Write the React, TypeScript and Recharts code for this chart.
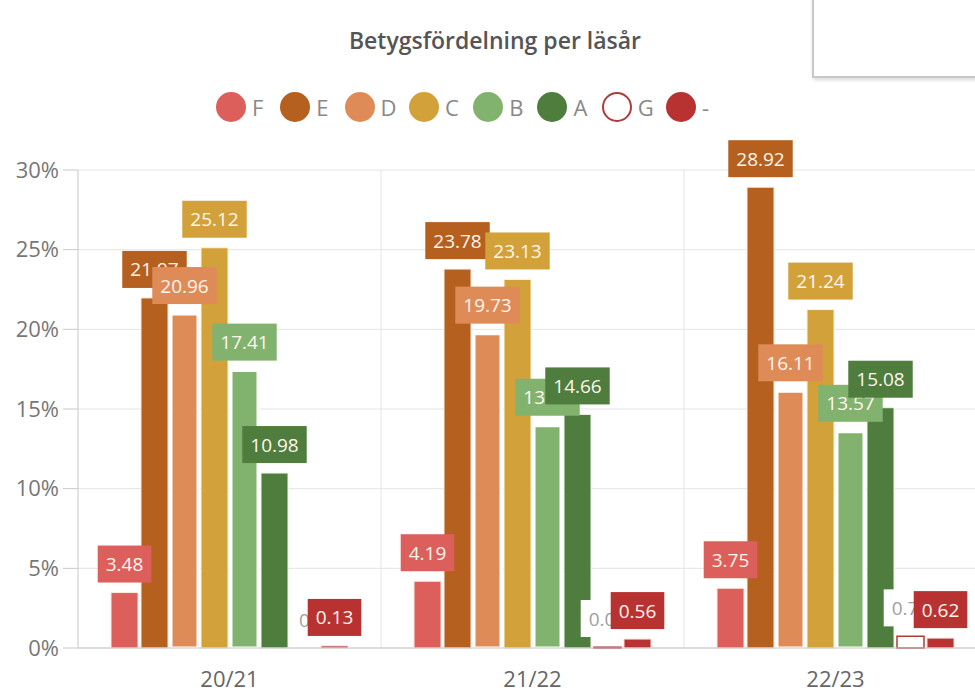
import React from "react";
import {
  BarChart,
  Bar,
  XAxis,
  YAxis,
  CartesianGrid,
  LabelList,
} from "recharts";

const categories = ["20/21", "21/22", "22/23"];
const gradeF = [3.48, 4.19, 3.75];
const gradeE = [21.97, 23.78, 28.92];
const gradeD = [20.96, 19.73, 16.11];
const gradeC = [25.12, 23.13, 21.24];
const gradeB = [17.41, 13.95, 13.57];
const gradeA = [10.98, 14.66, 15.08];
const gradeG = [0, 0.05, 0.73];
const gradeDash = [0.13, 0.56, 0.62];
const yTicks = [0, 5, 10, 15, 20, 25, 30];

const series = [
  { key: "F", name: "F", values: gradeF, color: "#dc5f5c", stroke: "#fbe9df", sw: 1, text: "#fff6ee" },
  { key: "E", name: "E", values: gradeE, color: "#b5601f", stroke: "#fbe9df", sw: 1, text: "#fff6ee" },
  { key: "D", name: "D", values: gradeD, color: "#df8b58", stroke: "#ffffff", sw: 3, text: "#fff6ee" },
  { key: "C", name: "C", values: gradeC, color: "#d3a13a", stroke: "#fdf3d8", sw: 1, text: "#fff6ee" },
  { key: "B", name: "B", values: gradeB, color: "#82b36e", stroke: "#ffffff", sw: 3, text: "#fff6ee" },
  { key: "A", name: "A", values: gradeA, color: "#4e7d3d", stroke: "#eef5e6", sw: 1, text: "#fff6ee" },
  { key: "G", name: "G", values: gradeG, color: "#ffffff", stroke: "#b03a3a", sw: 1.5, text: "#a0a0a0" },
  { key: "dash", name: "-", values: gradeDash, color: "#b83232", stroke: "#f5dede", sw: 1, text: "#fff6ee" },
];

const data = categories.map((year, i) => {
  const row: any = { year };
  series.forEach((s) => {
    row[s.key] = s.values[i];
  });
  return row;
});

const FONT = "'Open Sans', 'DejaVu Sans', sans-serif";
const LABEL_SIZE = 19;

let ctx: any = null;
const measure = (text: string) => {
  try {
    if (!ctx) ctx = document.createElement("canvas").getContext("2d");
    ctx.font = `${LABEL_SIZE}px 'Open Sans'`;
    return ctx.measureText(text).width;
  } catch (e) {
    return text.length * LABEL_SIZE * 0.56;
  }
};

const makeLabel = (bg: string, fg: string) => (props: any) => {
  const vb = props.viewBox || {};
  const x = props.x ?? vb.x;
  const y = props.y ?? vb.y;
  const width = props.width ?? vb.width;
  const height = props.height ?? vb.height ?? 0;
  const text = String(props.value);
  const w = measure(text) + 16;
  const h = 37;
  const cx = x + width / 2;
  // top of the bar (minPointSize bars count as zero height)
  const top = props.value === 0 ? y + height : y;
  const bottom = top - 10;
  return (
    <g>
      <rect x={cx - w / 2} y={bottom - h} width={w} height={h} fill={bg} />
      <text
        x={cx}
        y={bottom - h / 2}
        textAnchor="middle"
        dominantBaseline="central"
        fill={fg}
        fontSize={LABEL_SIZE}
        fontFamily={FONT}
      >
        {text}
      </text>
    </g>
  );
};

const Legend = () => (
  <div
    style={{
      position: "absolute",
      top: 92,
      left: 216,
      display: "flex",
      fontFamily: FONT,
      fontSize: 22,
      color: "#888",
    }}
  >
    {series.map((s) => (
      <div key={s.key} style={{ display: "flex", alignItems: "center", width: 64.3 }}>
        <span
          style={{
            display: "inline-block",
            width: 30,
            height: 30,
            borderRadius: "50%",
            boxSizing: "border-box",
            backgroundColor: s.color,
            border: s.key === "G" ? `2px solid ${s.stroke}` : "none",
            marginRight: 6,
          }}
        ></span>
        <span style={{ lineHeight: "30px" }}>{s.name}</span>
      </div>
    ))}
  </div>
);

const App = () => {
  return (
    <div
      style={{
        position: "absolute",
        left: 0,
        top: 0,
        width: 975,
        height: 695,
        overflow: "hidden",
        background: "#fff",
        fontFamily: FONT,
      }}
    >
      <div
        style={{
          position: "absolute",
          top: 25,
          left: 0,
          width: 990,
          textAlign: "center",
          fontSize: 23,
          lineHeight: "30px",
          fontWeight: 600,
          color: "#555",
        }}
      >
        Betygsfördelning per läsår
      </div>
      <div
        style={{
          position: "absolute",
          top: -10,
          left: 812,
          width: 220,
          height: 84,
          border: "2px solid #c8c8c8",
          boxShadow: "1px 2px 4px rgba(0,0,0,0.15)",
          background: "#fff",
        }}
      ></div>
      <Legend />
      <div style={{ position: "absolute", top: 0, left: 0 }}>
        <BarChart
          width={995}
          height={695}
          data={data}
          margin={{ top: 170, right: 8, bottom: 0, left: 0 }}
          barCategoryGap={33}
          barGap={3}
        >
          <CartesianGrid
            stroke="#e4e4e4"
            verticalCoordinatesGenerator={({ offset }: any) =>
              [1, 2].map((i) => offset.left + (offset.width * i) / categories.length)
            }
          />
          <XAxis
            dataKey="year"
            height={47}
            axisLine={{ stroke: "#c8c8c8" }}
            tickLine={false}
            tickMargin={17}
            tick={{ fontSize: 22, fill: "#666", fontFamily: FONT }}
            interval={0}
          />
          <XAxis dataKey="year" xAxisId="labels" hide />
          <YAxis
            width={78}
            domain={[0, 30]}
            ticks={yTicks}
            tickFormatter={(v: number) => `${v}%`}
            axisLine={{ stroke: "#c8c8c8" }}
            tickLine={{ stroke: "#c8c8c8" }}
            tickSize={15}
            tickMargin={4}
            tick={{ fontSize: 22, fill: "#777", fontFamily: FONT }}
          />
          {series.map((s) => (
            <Bar
              key={s.key}
              dataKey={s.key}
              name={s.name}
              fill={s.color}
              stroke={s.stroke}
              strokeWidth={s.sw}
              isAnimationActive={false}
            />
          ))}
          {series.map((s) => (
            <Bar
              key={`lbl-${s.key}`}
              dataKey={s.key}
              xAxisId="labels"
              fill="none"
              stroke="none"
              legendType="none"
              minPointSize={1}
              isAnimationActive={false}
            >
              <LabelList dataKey={s.key} content={makeLabel(s.key === "G" ? "#ffffff" : s.color, s.text)} />
            </Bar>
          ))}
        </BarChart>
      </div>
    </div>
  );
};

export default App;
